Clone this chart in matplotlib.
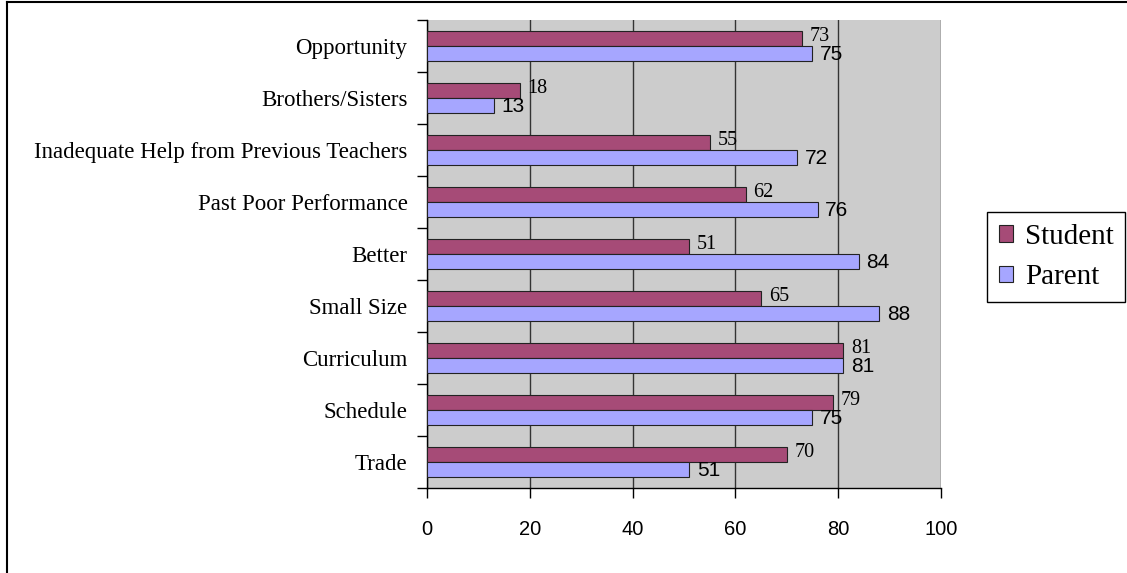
import numpy as np
import matplotlib.pyplot as plt
from matplotlib.lines import Line2D

# categories listed bottom to top
categories = ["Trade", "Schedule", "Curriculum", "Small Size", "Better",
              "Past Poor Performance", "Inadequate Help from Previous Teachers",
              "Brothers/Sisters", "Opportunity"]
student = [70, 79, 81, 65, 51, 62, 55, 18, 73]
parent = [51, 75, 81, 88, 84, 76, 72, 13, 75]

W, H = 1127, 573
fig = plt.figure(figsize=(W / 100, H / 100), dpi=100)
ax = fig.add_axes([427 / W, 1 - 488 / H, (941 - 427) / W, (488 - 20) / H])
ax.set_facecolor("#CCCCCC")

y = np.arange(len(categories))
h = 0.29
ax.barh(y + h / 2, student, height=h, color="#A64B77", edgecolor="#222222", linewidth=0.8,
        label="Student", zorder=3)
ax.barh(y - h / 2, parent, height=h, color="#A6A6FF", edgecolor="#222222", linewidth=0.8,
        label="Parent", zorder=3)

for yi, s, p in zip(y, student, parent):
    ax.text(s + 1.5, yi + h / 2 + 0.03, str(s), va="center", ha="left",
            fontfamily="Liberation Serif", fontsize=14.5, zorder=4)
    ax.text(p + 1.5, yi - h / 2 - 0.02, str(p), va="center", ha="left",
            fontfamily="Liberation Sans", fontsize=15, zorder=4)

ax.set_xlim(0, 100)
ax.set_ylim(-0.5, len(categories) - 0.5)
ax.set_xticks([0, 20, 40, 60, 80, 100])
ax.set_xticklabels(["0", "20", "40", "60", "80", "100"], fontfamily="Liberation Sans", fontsize=14.5)
ax.tick_params(axis="x", length=7, width=1, pad=16)
ax.xaxis.grid(True, color="#333333", linewidth=1, zorder=1)
ax.set_axisbelow(True)

ax.set_yticks(y)
ax.set_yticklabels(categories, fontfamily="Liberation Serif", fontsize=16.5)
ax.set_yticks(np.arange(-0.5, len(categories)), minor=True)
ax.tick_params(axis="y", which="major", length=0, pad=14)
ax.tick_params(axis="y", which="minor", length=7, width=1)

for side in ["top", "right"]:
    ax.spines[side].set_visible(False)
ax.spines["left"].set_linewidth(1)
ax.spines["bottom"].set_linewidth(1)

leg = fig.legend(loc="center left", bbox_to_anchor=(987 / W, 1 - 257 / H),
                 prop={"family": "Liberation Serif", "size": 21}, fancybox=False,
                 edgecolor="black", framealpha=1, handlelength=0.5, handleheight=0.5,
                 handletextpad=0.4, borderpad=0.4, labelspacing=0.5, borderaxespad=0)
leg.get_frame().set_linewidth(1)

# cropped outer border: only top and left edges visible
fig.add_artist(Line2D([6.5 / W, 1], [1 - 1.5 / H, 1 - 1.5 / H], transform=fig.transFigure,
                      color="black", linewidth=1.5))
fig.add_artist(Line2D([6.5 / W, 6.5 / W], [0, 1 - 1.5 / H], transform=fig.transFigure,
                      color="black", linewidth=1.5))

fig.savefig("out.png", dpi=100)
